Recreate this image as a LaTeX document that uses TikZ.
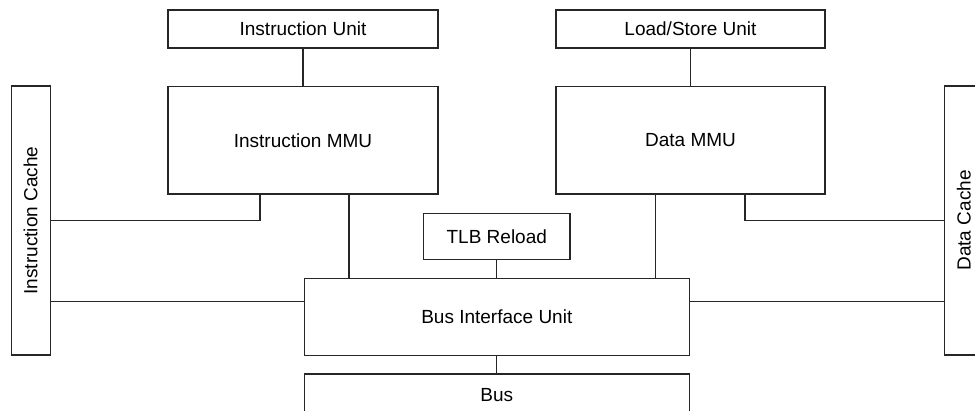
\documentclass[tikz,border=0pt]{standalone}
\usepackage{fontspec}
\setmainfont{Liberation Sans}
\begin{document}
\begin{tikzpicture}[x=1pt,y=1pt,
  blk/.style={draw=black!85,line width=1.1pt,inner sep=0pt,align=center,font=\fontsize{19}{22}\selectfont},
  wire/.style={draw=black!85,line width=1.1pt}]
\useasboundingbox (0,0) rectangle (975,-410);
\clip (0,0) rectangle (975,-410);
\node[blk,minimum width=270,minimum height=38] (iu) at (303,-29) {Instruction Unit};
\node[blk,minimum width=270,minimum height=107.3] (immu) at (303,-140.3) {Instruction MMU};
\node[blk,minimum width=269,minimum height=38] (lsu) at (690.5,-29) {Load/Store Unit};
\node[blk,minimum width=269,minimum height=107.3] (dmmu) at (690.5,-140.3) {Data MMU};
\node[blk,rotate=90,minimum width=269,minimum height=38.7] (icache) at (30.7,-220.5) {Instruction Cache};
\node[blk,rotate=90,minimum width=269,minimum height=39] (dcache) at (963.8,-220.5) {Data Cache};
\node[blk,minimum width=146.3,minimum height=46] (tlb) at (496.8,-236.3) {TLB Reload};
\node[blk,minimum width=385,minimum height=76.6] (biu) at (496.8,-317) {Bus Interface Unit};
\node[blk,minimum width=385,minimum height=42] (bus) at (496.8,-395) {Bus};
\coordinate (ia) at ([xshift=-43pt]immu.south);
\coordinate (ib) at ([xshift=46pt]immu.south);
\coordinate (da) at ([xshift=-34.8pt]dmmu.south);
\coordinate (db) at ([xshift=54.5pt]dmmu.south);
\coordinate (biuL) at ([yshift=15.7pt]biu.west);
\coordinate (biuR) at ([yshift=15.7pt]biu.east);
\draw[wire] (iu.south) -- (immu.north);
\draw[wire] (lsu.south) -- (dmmu.north);
\draw[wire] (icache.south) -| (ia);
\draw[wire] (dcache.north) -| (db);
\draw[wire] (ib) -- (ib |- biu.north);
\draw[wire] (da) -- (da |- biu.north);
\draw[wire] (tlb.south) -- (biu.north);
\draw[wire] (biu.south) -- (bus.north);
\draw[wire] (biuL) -- (biuL -| icache.south);
\draw[wire] (biuR) -- (biuR -| dcache.north);
\end{tikzpicture}
\end{document}
